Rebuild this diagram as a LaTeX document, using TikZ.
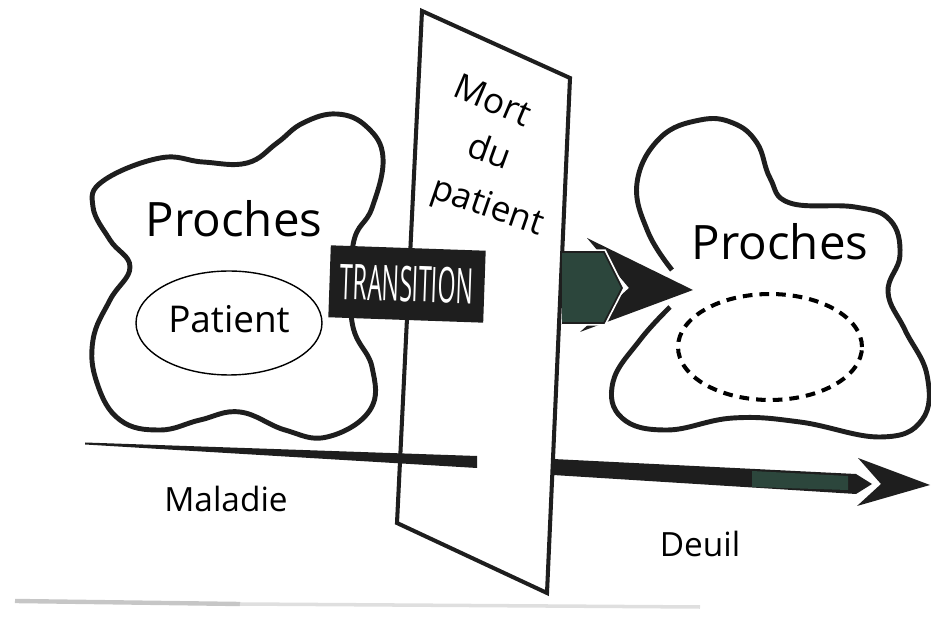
\documentclass[tikz,border=0pt]{standalone}
\usepackage{fontspec}
\setmainfont{Open Sans}
\usetikzlibrary{shapes.geometric}
\definecolor{deepgreen}{RGB}{44,70,60}
\definecolor{inkblack}{RGB}{30,30,30}
\tikzset{
  blob/.style={line width=2.8pt, line join=round, draw=inkblack},
  bigword/.style={anchor=base, font=\fontsize{27}{30}\selectfont},
  smallword/.style={anchor=base, font=\fontsize{19}{22}\selectfont},
  slantword/.style={font=\fontsize{20}{22}\selectfont, inner sep=1pt},
  transbox/.style={fill=inkblack, text=white, minimum width=3.1cm, minimum height=1.44cm,
    inner sep=0pt, rotate=-2, font=\fontsize{28}{30}\selectfont},
  oval/.style={ellipse, draw, inner sep=0pt},
}
\begin{document}
\begin{tikzpicture}[x=0.02cm,y=-0.02cm]
\useasboundingbox (0,0) rectangle (931,618);
% clouds
\draw [blob] plot [smooth cycle, tension=0.7] coordinates {
  (160,158) (203,162) (247,163) (277,143) (303,123) (337,114) (367,127) (383,158)
  (372,208) (353,245) (352,322) (372,367) (370,410) (327,437) (285,430)
  (240,412) (200,420) (160,430) (120,420) (97,383) (93,340) (110,300)
  (130,267) (110,240) (93,207) (103,181)};
\draw [blob] plot [smooth, tension=0.7] coordinates {
  (670,307) (640,340) (613,382) (622,418) (667,430) (733,418) (800,422)
  (880,437) (922,420) (927,375) (905,330) (888,292) (900,255) (890,220)
  (855,207) (790,203) (770,178) (757,143) (733,123) (700,120) (660,138)
  (637,183) (648,232) (672,270)};
\node [bigword] (proches) at (234,237) {Proches};
\node [oval, line width=0.8pt, minimum width=3.72cm, minimum height=2.08cm] (patient) at (229,323) {};
\node [anchor=base, font=\fontsize{21}{24}\selectfont] (patientlbl) at (229,333) {Patient};
\node [bigword] (proches2) at (780,260) {Proches};
\node [oval, line width=2.3pt, dash pattern=on 5.5pt off 4pt, minimum width=3.68cm, minimum height=2.12cm] (empty) at (770,347) {};
% plane
\coordinate (pa) at (422,11);
\coordinate (pb) at (570,78);
\coordinate (pc) at (547,593);
\coordinate (pd) at (397,523);
\draw [line width=2.3pt, fill=white, draw=inkblack] (pa) -- (pb) -- (pc) -- (pd) -- cycle;
\node [slantword, rotate=-23] (mort) at (493,100) {Mort};
\node [slantword, rotate=-20] (du) at (490,150) {du};
\node [slantword, rotate=-19] (deces) at (487,208) {patient};
% time line
\fill [inkblack] (85,442.5) -- (477,456) -- (477,468) -- (85,444.5) -- cycle;
\fill [inkblack] (858,458) -- (930,485) -- (857,506) -- (881,484) -- cycle;
\draw [white, line width=2.5pt] (849,470) -- (875,484) -- (849,498);
\fill [inkblack] (553,459) -- (856,474) -- (872,484) -- (856,494) -- (553,475) -- cycle;
\fill [deepgreen] (752,471) -- (848,476) -- (848,490) -- (752,487) -- cycle;
\node [smallword] (maladie) at (226,512) {Maladie};
\node [smallword] (deuil) at (700,557) {Deuil};
% transition
\node [transbox] (transition) at (407,284) {\scalebox{0.47}[1]{TRANSITION}};
\fill [inkblack] (587,238) -- (693,290) -- (580,332) -- (629,288) -- cycle;
\draw [white, line width=3pt] (566,252) -- (604,252) -- (622,288) -- (604,323) -- (566,323);
\draw [fill=deepgreen, line width=1pt, draw=inkblack] (562,252) -- (604,252) -- (622,288) -- (604,323) -- (562,323);
% scan edge
\draw [gray!45, line width=2.5pt] (15,601) -- (240,604);
\draw [gray!25, line width=2pt] (240,604) -- (700,607);
\end{tikzpicture}
\end{document}
